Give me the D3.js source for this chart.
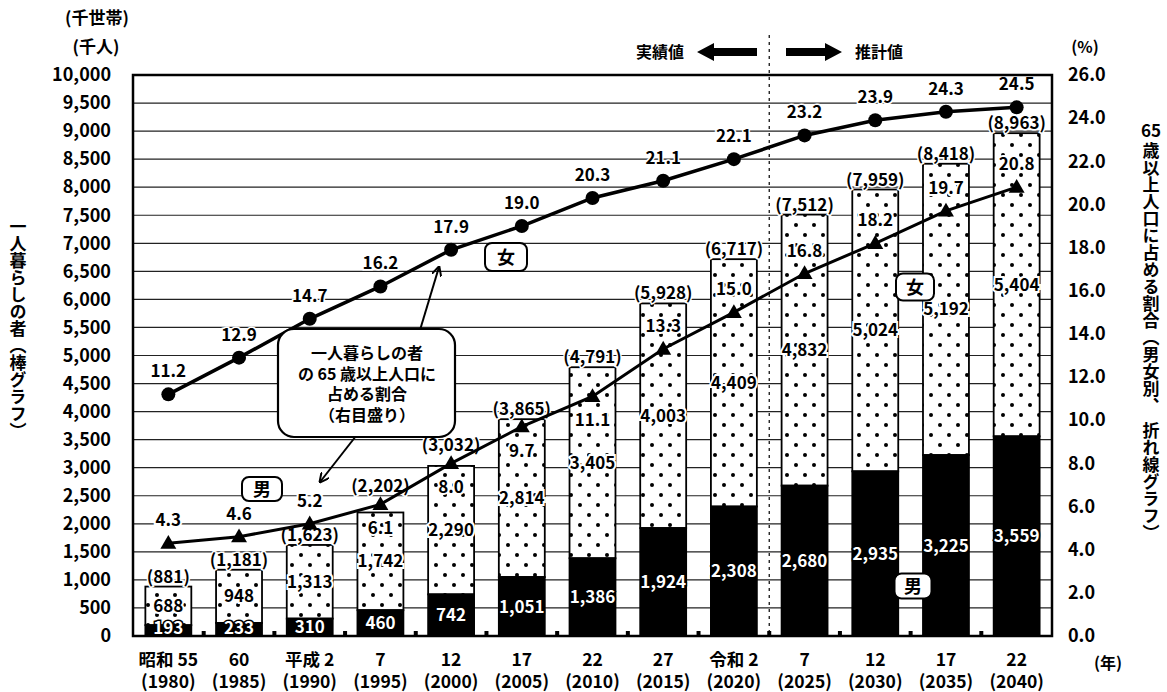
<!DOCTYPE html>
<html lang="ja">
<head>
<meta charset="utf-8">
<script src="https://cdn.jsdelivr.net/npm/d3@7/dist/d3.min.js"></script>
<style>
  html, body { margin: 0; padding: 0; background: #fff; }
  svg { display: block; }
  text { font-family: "Noto Sans CJK JP", "Noto Sans", sans-serif; font-weight: 700; fill: #000; }
</style>
</head>
<body>
<svg id="chart" width="1167" height="692"></svg>
<script>
// 年次（和暦・西暦）
const eraLabels  = ["昭和 55", "60", "平成 2", "7", "12", "17", "22", "27", "令和 2", "7", "12", "17", "22"];
const yearLabels = ["1980", "1985", "1990", "1995", "2000", "2005", "2010", "2015", "2020", "2025", "2030", "2035", "2040"];

// 一人暮らしの者（千人）：男・女、合計（千世帯）
const maleCount   = [193, 233, 310, 460, 742, 1051, 1386, 1924, 2308, 2680, 2935, 3225, 3559];
const femaleCount = [688, 948, 1313, 1742, 2290, 2814, 3405, 4003, 4409, 4832, 5024, 5192, 5404];
const totalCount  = [881, 1181, 1623, 2202, 3032, 3865, 4791, 5928, 6717, 7512, 7959, 8418, 8963];

// 65歳以上人口に占める割合（％）
const femaleShare = [11.2, 12.9, 14.7, 16.2, 17.9, 19.0, 20.3, 21.1, 22.1, 23.2, 23.9, 24.3, 24.5];
const maleShare   = [4.3, 4.6, 5.2, 6.1, 8.0, 9.7, 11.1, 13.3, 15.0, 16.8, 18.2, 19.7, 20.8];

// 目盛り
const leftTicks  = d3.range(0, 10001, 500);
const rightTicks = d3.range(0, 26.01, 2);

const svg = d3.select("#chart");
const L = 133, R = 1052, T = 75, B = 636;

const x = d3.scaleBand().domain(yearLabels).range([L, R]).paddingInner(0.35).paddingOuter(0.175);
const yL = d3.scaleLinear().domain([0, 10000]).range([B, T]);
const yR = d3.scaleLinear().domain([0, 26]).range([B, T]);
const cx = d => x(d) + x.bandwidth() / 2;

// 水玉模様
const defs = svg.append("defs");
const pat = defs.append("pattern").attr("id", "dots")
  .attr("patternUnits", "userSpaceOnUse").attr("width", 18).attr("height", 20);
pat.append("rect").attr("width", 18).attr("height", 20).attr("fill", "#fff");
pat.append("circle").attr("cx", 4).attr("cy", 5).attr("r", 2).attr("fill", "#000");
pat.append("circle").attr("cx", 13).attr("cy", 15).attr("r", 2).attr("fill", "#000");

defs.append("marker").attr("id", "arrowhead")
  .attr("viewBox", "0 0 10 10").attr("refX", 9).attr("refY", 5)
  .attr("markerWidth", 10).attr("markerHeight", 10).attr("markerUnits", "userSpaceOnUse")
  .attr("orient", "auto")
  .append("path").attr("d", "M0,0 L10,5 L0,10").attr("fill", "none").attr("stroke", "#000").attr("stroke-width", 2);

// 目盛り線
svg.append("g").selectAll("line").data(leftTicks.slice(1, -1)).join("line")
  .attr("x1", L).attr("x2", R).attr("y1", d => yL(d)).attr("y2", d => yL(d))
  .attr("stroke", "#222").attr("stroke-width", 1.2);

// 実績値・推計値の境界
const split = (x(yearLabels[8]) + x(yearLabels[9]) + x.bandwidth()) / 2;
svg.append("line").attr("x1", split).attr("x2", split).attr("y1", 35).attr("y2", B)
  .attr("stroke", "#000").attr("stroke-width", 1.2).attr("stroke-dasharray", "3,4");

// 棒グラフ
const bars = svg.append("g");
yearLabels.forEach((yr, i) => {
  const x0 = x(yr), w = x.bandwidth();
  bars.append("rect").attr("x", x0).attr("width", w)
    .attr("y", yL(totalCount[i])).attr("height", yL(maleCount[i]) - yL(totalCount[i]))
    .attr("fill", "url(#dots)").attr("stroke", "#000").attr("stroke-width", 1.8);
  bars.append("rect").attr("x", x0).attr("width", w)
    .attr("y", yL(maleCount[i])).attr("height", B - yL(maleCount[i]))
    .attr("fill", "#000").attr("stroke", "#000").attr("stroke-width", 1.8);
});

// 区切りの小目盛り
svg.append("g").selectAll("rect").data(yearLabels.slice(0, -1)).join("rect")
  .attr("x", d => x(d) + x.bandwidth() + x.step() * 0.175 - 2).attr("y", B - 5)
  .attr("width", 4).attr("height", 5).attr("fill", "#000");

// 男の割合の点が棒の上端付近にあるか
const nearTop = i => {
  const ty = yR(maleShare[i]), top = yL(totalCount[i]);
  return ty > top - 10 && ty < top + 35;
};

// 棒のラベル
const lab = svg.append("g").attr("text-anchor", "middle").attr("font-size", 17);
yearLabels.forEach((yr, i) => {
  const top = yL(totalCount[i]);
  const base = nearTop(i) ? Math.min(top, yR(maleShare[i]) - 8) - 4 : top - 4;
  lab.append("text").attr("x", cx(yr)).attr("y", base)
    .attr("stroke", "#fff").attr("stroke-width", 3).attr("paint-order", "stroke")
    .text("(" + d3.format(",")(totalCount[i]) + ")");
  lab.append("text").attr("x", cx(yr)).attr("y", (top + yL(maleCount[i])) / 2 + 6)
    .attr("stroke", "#fff").attr("stroke-width", 4).attr("paint-order", "stroke")
    .text(d3.format(",")(femaleCount[i]));
  const my = Math.min((yL(maleCount[i]) + B) / 2 + 6, B - 2);
  lab.append("text").attr("x", cx(yr)).attr("y", my)
    .attr("stroke", "#000").attr("stroke-width", 3).attr("paint-order", "stroke")
    .style("fill", "#fff")
    .text(d3.format(",")(maleCount[i]));
});

// 折れ線（女・男）
const line = d3.line().x((d, i) => cx(yearLabels[i])).y(d => yR(d));
svg.append("path").datum(femaleShare).attr("d", line)
  .attr("fill", "none").attr("stroke", "#000").attr("stroke-width", 3.5);
svg.append("path").datum(maleShare).attr("d", line)
  .attr("fill", "none").attr("stroke", "#000").attr("stroke-width", 3);

svg.append("g").selectAll("circle").data(femaleShare).join("circle")
  .attr("cx", (d, i) => cx(yearLabels[i])).attr("cy", d => yR(d)).attr("r", 7).attr("fill", "#000");
svg.append("g").selectAll("path").data(maleShare).join("path")
  .attr("d", d3.symbol().type(d3.symbolTriangle).size(110))
  .attr("transform", (d, i) => `translate(${cx(yearLabels[i])},${yR(d) + 1})`).attr("fill", "#000");

const shareLab = svg.append("g").attr("text-anchor", "middle").attr("font-size", 17);
femaleShare.forEach((v, i) => {
  shareLab.append("text").attr("x", cx(yearLabels[i])).attr("y", yR(v) - 17)
    .attr("stroke", "#fff").attr("stroke-width", 3).attr("paint-order", "stroke")
    .text(d3.format(".1f")(v));
});
maleShare.forEach((v, i) => {
  const yy = nearTop(i) ? yR(v) + 30 : yR(v) - 17;
  shareLab.append("text").attr("x", cx(yearLabels[i])).attr("y", yy)
    .attr("stroke", "#fff").attr("stroke-width", 4).attr("paint-order", "stroke")
    .text(d3.format(".1f")(v));
});

// 枠
svg.append("rect").attr("x", L).attr("y", T).attr("width", R - L).attr("height", B - T)
  .attr("fill", "none").attr("stroke", "#000").attr("stroke-width", 2.5);

// 軸
const axL = svg.append("g").attr("transform", `translate(${L},0)`)
  .call(d3.axisLeft(yL).tickValues(leftTicks).tickSize(0).tickPadding(22).tickFormat(d3.format(",")));
const axR = svg.append("g").attr("transform", `translate(${R},0)`)
  .call(d3.axisRight(yR).tickValues(rightTicks).tickSize(0).tickPadding(16).tickFormat(d3.format(".1f")));
[axL, axR].forEach(a => {
  a.select(".domain").remove();
  a.selectAll("text").attr("font-size", 18).attr("font-family", null).style("font-weight", 700);
});

const axX = svg.append("g").attr("text-anchor", "middle").attr("font-size", 17.5);
yearLabels.forEach((yr, i) => {
  axX.append("text").attr("x", cx(yr)).attr("y", 666).text(eraLabels[i]);
  axX.append("text").attr("x", cx(yr)).attr("y", 688).text("(" + yr + ")");
});
svg.append("text").attr("x", 1108).attr("y", 669).attr("text-anchor", "middle").attr("font-size", 16).text("(年)");

// 単位
svg.append("text").attr("x", 97).attr("y", 24).attr("text-anchor", "middle").attr("font-size", 17).text("(千世帯)");
svg.append("text").attr("x", 96).attr("y", 53).attr("text-anchor", "middle").attr("font-size", 17).text("(千人)");
svg.append("text").attr("x", 1085).attr("y", 53).attr("text-anchor", "middle").attr("font-size", 16).text("(%)");

// 軸タイトル（縦書き）
svg.append("text").attr("x", 18).attr("y", 218).attr("font-size", 17)
  .style("writing-mode", "vertical-rl").text("一人暮らしの者（棒グラフ）");
svg.append("text").attr("x", 1151).attr("y", 137).attr("text-anchor", "middle").attr("font-size", 17).text("65");
svg.append("text").attr("x", 1151).attr("y", 142).attr("font-size", 17)
  .style("writing-mode", "vertical-rl").text("歳以上人口に占める割合（男女別、　折れ線グラフ）");

// 実績値・推計値の矢印
svg.append("text").attr("x", 660).attr("y", 58).attr("text-anchor", "middle").attr("font-size", 16).text("実績値");
svg.append("text").attr("x", 879).attr("y", 58).attr("text-anchor", "middle").attr("font-size", 16).text("推計値");
svg.append("path").attr("d", "M697,52 L714,43 L714,48 L757,48 L757,56 L714,56 L714,61 Z").attr("fill", "#000");
svg.append("path").attr("d", "M842,52 L825,43 L825,48 L786,48 L786,56 L825,56 L825,61 Z").attr("fill", "#000");

// 女・男のラベル
function tag(cxp, cyp, w, h, txt) {
  svg.append("rect").attr("x", cxp - w / 2).attr("y", cyp - h / 2).attr("width", w).attr("height", h)
    .attr("rx", 7).attr("fill", "#fff").attr("stroke", "#000").attr("stroke-width", 2);
  svg.append("text").attr("x", cxp).attr("y", cyp + 6.5).attr("text-anchor", "middle").attr("font-size", 18).text(txt);
}
tag(506, 257, 42, 28, "女");
tag(915, 287, 38, 27, "女");
tag(262, 489, 40, 24, "男");
tag(913, 586, 37, 25, "男");

// 注記の吹き出し
svg.append("line").attr("x1", 420).attr("y1", 330).attr("x2", 439).attr("y2", 267)
  .attr("stroke", "#000").attr("stroke-width", 2).attr("marker-end", "url(#arrowhead)");
svg.append("line").attr("x1", 356).attr("y1", 436).attr("x2", 320).attr("y2", 482)
  .attr("stroke", "#000").attr("stroke-width", 2).attr("marker-end", "url(#arrowhead)");
svg.append("rect").attr("x", 278).attr("y", 329).attr("width", 177).attr("height", 108)
  .attr("rx", 16).attr("fill", "#fff").attr("stroke", "#000").attr("stroke-width", 2.2);
const note = ["一人暮らしの者", "の 65 歳以上人口に", "占める割合", "（右目盛り）"];
svg.append("g").attr("text-anchor", "middle").attr("font-size", 16).selectAll("text").data(note).join("text")
  .attr("x", 367).attr("y", (d, i) => 359 + i * 20.5).text(d => d);
</script>
</body>
</html>
